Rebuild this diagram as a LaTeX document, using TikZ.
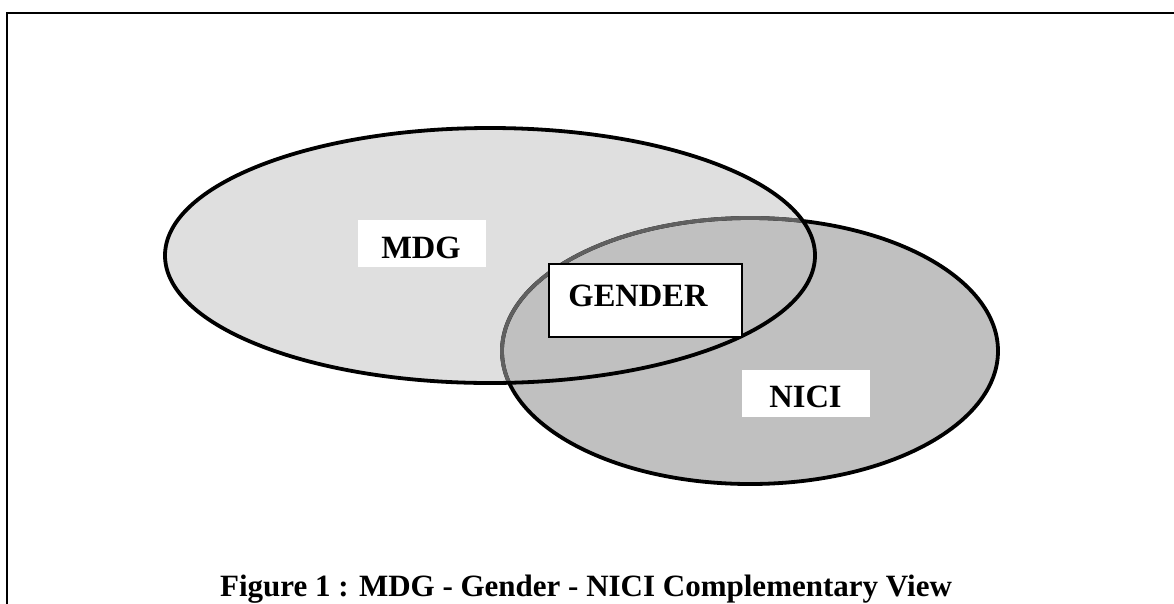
\documentclass[tikz,border=0pt]{standalone}
\usepackage{fontspec}
\setmainfont{Liberation Serif}
\definecolor{mdgfill}{HTML}{DFDFDF}
\definecolor{nicifill}{HTML}{C0C0C0}
\definecolor{innerline}{HTML}{606060}
\tikzset{
  frameline/.style={line width=2pt, line cap=rect},
  ring/.style={line width=3.8pt},
  plainbox/.style={fill=white, inner sep=0pt},
  genderbox/.style={fill=white, draw=black, line width=1.5pt, inner sep=0pt},
  lbl/.style={font=\fontsize{32.5}{38}\selectfont\bfseries, inner sep=0pt},
  captiontext/.style={font=\fontsize{31}{37}\selectfont\bfseries, inner sep=0pt}
}
\begin{document}
\begin{tikzpicture}[x=1pt,y=-1pt]
\useasboundingbox (0,0) rectangle (1174,603);
% frame
\coordinate (fb) at (7,603);
\coordinate (fc) at (7,13);
\coordinate (fr) at (1174,13);
\draw[frameline] (fb) -- (fc) -- (fr);
% centres
\coordinate (mdgc) at (490,255.5);
\coordinate (nicic) at (750,351);
% fills
\fill[mdgfill] (mdgc) ellipse [x radius=325pt, y radius=127.5pt];
\fill[nicifill] (nicic) ellipse [x radius=248pt, y radius=133pt];
% NICI outline: black outside MDG, gray inside
\draw[ring, black] (nicic) ellipse [x radius=248pt, y radius=133pt];
\begin{scope}
  \clip (mdgc) ellipse [x radius=325pt, y radius=127.5pt];
  \draw[ring, innerline] (nicic) ellipse [x radius=248pt, y radius=133pt];
\end{scope}
% MDG outline
\draw[ring, black] (mdgc) ellipse [x radius=325pt, y radius=127.5pt];
% label boxes
\node[plainbox, minimum width=128pt, minimum height=47pt] (mdgbox) at (422,243.5) {};
\node[lbl, anchor=base] (mdgtext) at (421,258) {MDG};
\node[genderbox, minimum width=193pt, minimum height=73pt] (genderbox) at (645.5,300.5) {};
\node[lbl, anchor=base] (gendertext) at (638,306) {GENDER};
\node[plainbox, minimum width=128pt, minimum height=47pt] (nicibox) at (806,393.5) {};
\node[lbl, anchor=base] (nicitext) at (805.5,407) {NICI};
% caption
\node[captiontext, anchor=base] (caption) at (586,596) {Figure 1 : MDG - Gender - NICI Complementary View};
\end{tikzpicture}
\end{document}
